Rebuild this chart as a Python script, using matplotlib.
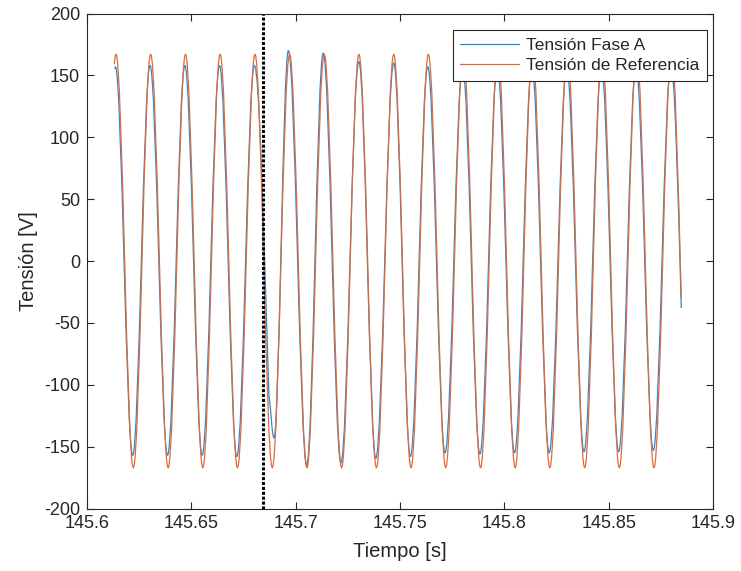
import matplotlib.pyplot as plt
from matplotlib.path import Path
from matplotlib.patches import PathPatch
from matplotlib.lines import Line2D

plt.rcParams['font.family'] = ['Liberation Sans', 'DejaVu Sans']
plt.rcParams['axes.unicode_minus'] = False

# instante de la falla
t_falla = 145.6842

# tension de referencia: inicio, maximos/minimos y final (tiempo, valor, pendiente)
t_ref = [145.6131,
         145.6139, 145.6222, 145.6305, 145.6389, 145.6472, 145.6555, 145.6638, 145.6721,
         145.6805, 145.6888, 145.6971, 145.7054, 145.7137, 145.7220, 145.7303, 145.7387,
         145.7470, 145.7553, 145.7636, 145.7719, 145.7803, 145.7886, 145.7969, 145.8052,
         145.8135, 145.8218, 145.8302, 145.8385, 145.8468, 145.8551, 145.8634, 145.8717,
         145.8801,
         145.8848]
v_ref = [159,
         167, -167, 167, -167, 167, -167, 167, -167,
         167, -167, 167, -167, 167, -167, 167, -167,
         167, -167, 167, -167, 167, -167, 167, -167,
         167, -167, 167, -167, 167, -167, 167, -167,
         167,
         -30]
m_ref = [19000] + [0] * 33 + [-62000]

# tension fase A
t_fase = [145.6134,
          145.6136, 145.6219, 145.6302, 145.6386, 145.6469, 145.6552, 145.6635, 145.6718,
          145.6802, 145.6871, 145.6873, 145.6896, 145.6965,
          145.7053, 145.7132, 145.7217, 145.7303, 145.7384, 145.7470, 145.7550, 145.7633,
          145.7716, 145.7800, 145.7883, 145.7966, 145.8049, 145.8132, 145.8215, 145.8299,
          145.8382, 145.8465, 145.8548, 145.8631, 145.8714, 145.8798,
          145.8848]
v_fase = [155,
          157, -157, 158, -157, 158, -157, 158, -158,
          158, -104, -110, -143, 170,
          -165, 168, -163, 161, -159.5, 160, -158, 157,
          -155, 157, -156, 157, -155, 157, -155, 157,
          -154, 157, -154, 157, -153, 157,
          -38]
m_fase = [12000,
          0, 0, 0, 0, 0, 0, 0, 0,
          0, -50000, -12000, 0, 0,
          0, 0, 0, 0, 0, 0, 0, 0,
          0, 0, 0, 0, 0, 0, 0, 0,
          0, 0, 0, 0, 0, 0,
          -60000]

azul = '#2a8cd0'
naranja = '#e2693a'


# curva suave entre puntos clave (bezier cubica)
def curva(ax, t, v, m, color):
    verts = [(t[0], v[0])]
    codes = [Path.MOVETO]
    for i in range(len(t) - 1):
        h = 0.3634 * (t[i + 1] - t[i])
        verts.append((t[i] + h, v[i] + h * m[i]))
        verts.append((t[i + 1] - h, v[i + 1] - h * m[i + 1]))
        verts.append((t[i + 1], v[i + 1]))
        codes += [Path.CURVE4] * 3
    ax.add_patch(PathPatch(Path(verts, codes), facecolor='none', edgecolor=color,
                           lw=0.9, capstyle='butt', joinstyle='round'))


fig = plt.figure(figsize=(7.41, 5.71), dpi=100)
ax = fig.add_axes([87 / 741, 1 - 508.5 / 571, 626 / 741, 495 / 571])

curva(ax, t_fase, v_fase, m_fase, azul)
curva(ax, t_ref, v_ref, m_ref, naranja)

ax.axvline(t_falla, color='black', lw=2.2, linestyle=(0, (1, 0.6)))

ax.set_xlim(145.6, 145.9)
ax.set_ylim(-200, 200)
ax.set_xticks([145.6, 145.65, 145.7, 145.75, 145.8, 145.85, 145.9])
ax.set_xticklabels(['145.6', '145.65', '145.7', '145.75', '145.8', '145.85', '145.9'])
ax.set_yticks(range(-200, 201, 50))

gris = '#262626'
for s in ax.spines.values():
    s.set_color(gris)
    s.set_linewidth(0.8)
ax.tick_params(direction='in', top=True, right=True, length=5, width=0.8,
               color=gris, labelcolor=gris, labelsize=13, pad=5)

ax.set_xlabel('Tiempo [s]', fontsize=14.5, color=gris, labelpad=7)
ax.set_ylabel('Tensión [V]', fontsize=14.5, color=gris, labelpad=4)

handles = [Line2D([], [], color=azul, lw=0.9), Line2D([], [], color=naranja, lw=0.9)]
leg = ax.legend(handles, ['Tensión Fase A', 'Tensión de Referencia'],
                loc='upper right', bbox_to_anchor=(706.7 / 741, 1 - 30 / 571),
                bbox_transform=fig.transFigure, borderaxespad=0, fancybox=False,
                framealpha=1, edgecolor=gris, fontsize=12.5, handlelength=3.4,
                handletextpad=0.35, borderpad=0.45, labelspacing=0.3)
leg.get_frame().set_linewidth(0.8)
for txt in leg.get_texts():
    txt.set_color(gris)

fig.savefig('out.png', dpi=100)
